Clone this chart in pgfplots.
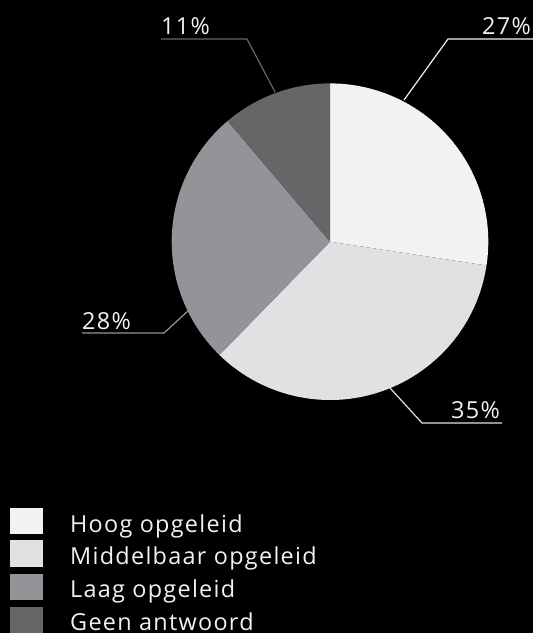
\documentclass[border=0pt]{standalone}
\usepackage{fontspec}
\setmainfont[LetterSpace=5.5]{Open Sans}
\usepackage{pgfplots}
\pgfplotsset{compat=1.18}
\definecolor{hoog}{HTML}{F2F2F2}
\definecolor{middel}{HTML}{E0E1E3}
\definecolor{laag}{HTML}{939497}
\definecolor{geen}{HTML}{666668}
\definecolor{txt}{HTML}{F2F2F2}
\begin{document}
\begin{tikzpicture}
\begin{axis}[name=ax, scale only axis, width=533bp, height=633bp,
  xmin=0, xmax=533, ymin=0, ymax=633, hide axis, clip=false]
% background
\fill[black] (axis cs:0,0) rectangle (axis cs:533,633);
% pie slices (values in percent: 27.4, 34.9, 26.5, 11.2)
\fill[hoog] (axis cs:330,391.3) -- ++(90:158.3bp) arc[start angle=90, end angle={90-3.6*27.4}, radius=158.3bp] -- cycle;
\fill[middel] (axis cs:330,391.3) -- ++({90-3.6*27.4}:158.3bp) arc[start angle={90-3.6*27.4}, end angle={90-3.6*(27.4+34.9)}, radius=158.3bp] -- cycle;
\fill[laag] (axis cs:330,391.3) -- ++({90-3.6*(27.4+34.9)}:158.3bp) arc[start angle={90-3.6*(27.4+34.9)}, end angle={90-3.6*(27.4+34.9+26.5)}, radius=158.3bp] -- cycle;
\fill[geen] (axis cs:330,391.3) -- ++({90-3.6*(27.4+34.9+26.5)}:158.3bp) arc[start angle={90-3.6*(27.4+34.9+26.5)}, end angle={90-3.6*(27.4+34.9+26.5+11.2)}, radius=158.3bp] -- cycle;
% leader lines
\draw[geen, line width=1.2bp] (axis cs:161,594) -- (axis cs:247,594) -- (axis cs:275,541);
\draw[hoog, line width=1.2bp] (axis cs:533,594) -- (axis cs:448,594) -- (axis cs:404,533);
\draw[laag, line width=1.2bp] (axis cs:82,300) -- (axis cs:164,300) -- (axis cs:188,322);
\draw[middel, line width=1.2bp] (axis cs:502,210) -- (axis cs:422,210) -- (axis cs:390,245);
% labels
\node[anchor=base west, inner sep=0pt, text=txt, font=\fontsize{23.5}{27}\selectfont] at (axis cs:161,598) {11\%};
\node[anchor=base east, inner sep=0pt, text=txt, font=\fontsize{23.5}{27}\selectfont] at (axis cs:531,598) {27\%};
\node[anchor=base west, inner sep=0pt, text=txt, font=\fontsize{23.5}{27}\selectfont] at (axis cs:82,303) {28\%};
\node[anchor=base east, inner sep=0pt, text=txt, font=\fontsize{23.5}{27}\selectfont] at (axis cs:500,214) {35\%};
% legend
\fill[hoog] (axis cs:10,99) rectangle (axis cs:43,125);
\fill[middel] (axis cs:10,66) rectangle (axis cs:43,93);
\fill[laag] (axis cs:10,33) rectangle (axis cs:43,59);
\fill[geen] (axis cs:10,0) rectangle (axis cs:43,26);
\node[anchor=base west, inner sep=0pt, text=txt, font=\fontsize{23.5}{27}\selectfont] at (axis cs:70,100) {Hoog opgeleid};
\node[anchor=base west, inner sep=0pt, text=txt, font=\fontsize{23.5}{27}\selectfont] at (axis cs:70,68) {Middelbaar opgeleid};
\node[anchor=base west, inner sep=0pt, text=txt, font=\fontsize{23.5}{27}\selectfont] at (axis cs:70,35) {Laag opgeleid};
\node[anchor=base west, inner sep=0pt, text=txt, font=\fontsize{23.5}{27}\selectfont] at (axis cs:70,3) {Geen antwoord};
\end{axis}
\pgfresetboundingbox
\path[use as bounding box] (ax.south west) rectangle (ax.north east);
\end{tikzpicture}
\end{document}
